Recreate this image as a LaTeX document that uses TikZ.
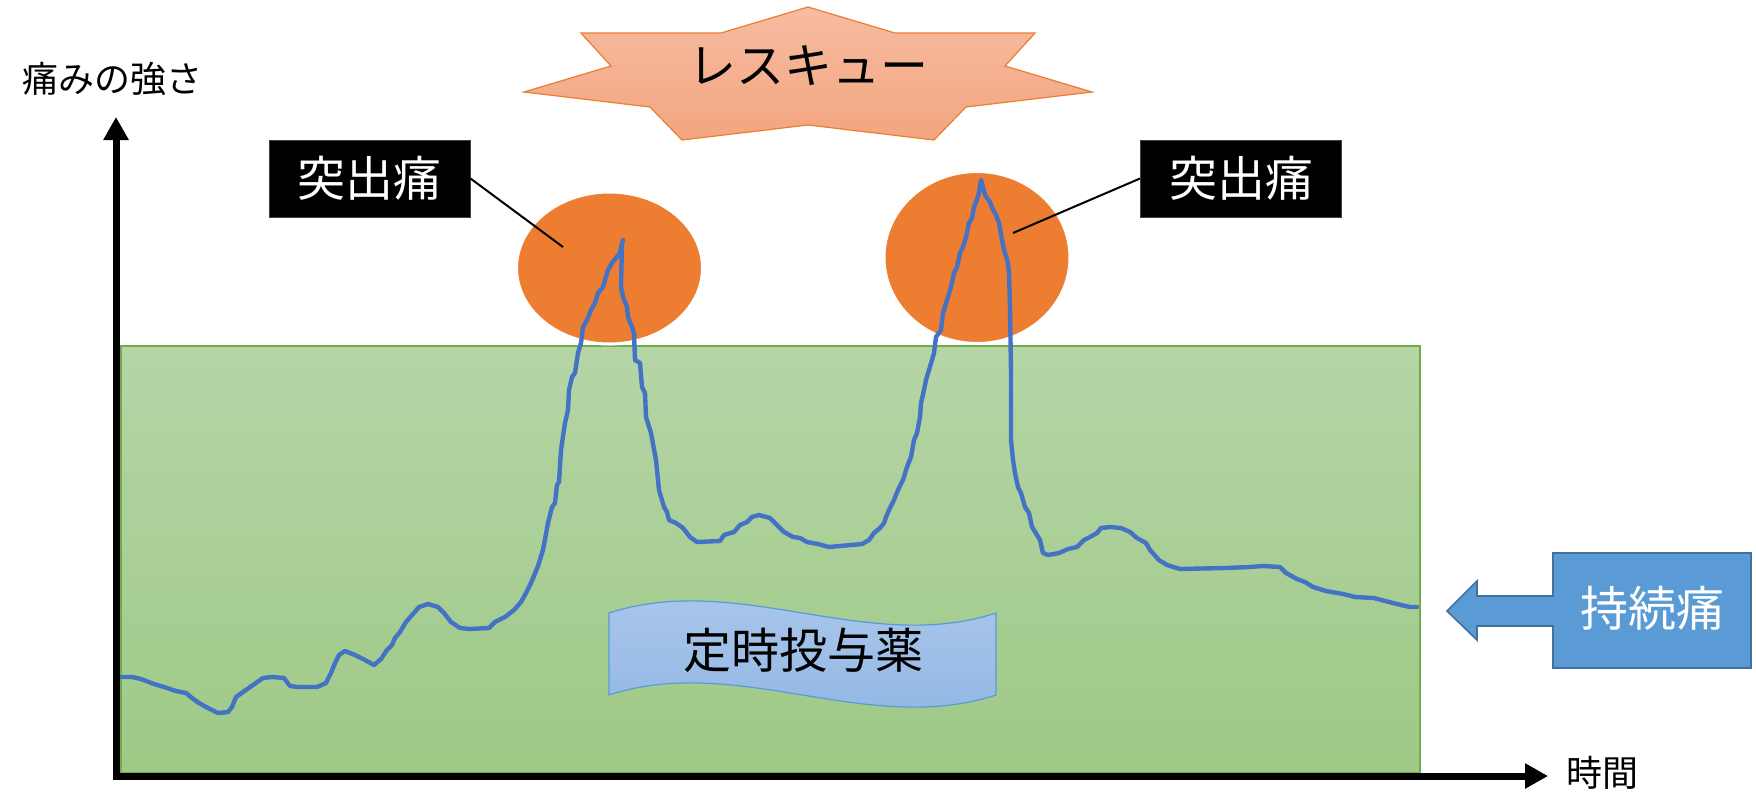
\documentclass[tikz,border=0pt]{standalone}
\usepackage{fontspec}
\setmainfont{Noto Sans CJK JP}
\usetikzlibrary{arrows.meta,shapes.geometric}
\definecolor{greentop}{RGB}{181,213,166}
\definecolor{greenbot}{RGB}{158,201,134}
\definecolor{greenline}{RGB}{112,173,71}
\definecolor{orangeA}{RGB}{237,125,49}
\definecolor{startop}{RGB}{246,188,162}
\definecolor{starbot}{RGB}{243,165,127}
\definecolor{wavetop}{RGB}{173,201,236}
\definecolor{wavebot}{RGB}{143,181,228}
\definecolor{waveline}{RGB}{91,155,213}
\definecolor{calloutfill}{RGB}{91,155,213}
\definecolor{calloutline}{RGB}{65,113,156}
\definecolor{curveblue}{RGB}{68,114,196}
\begin{document}
\begin{tikzpicture}[x=0.5pt,y=-0.5pt,
  bigfont/.style={font=\fontsize{24pt}{28pt}\selectfont},
  smallfont/.style={font=\fontsize{18pt}{22pt}\selectfont},
  blackbox/.style={fill=black, draw=black!75, line width=0.5pt, text=white,
    minimum width=100.5pt, minimum height=38.5pt, inner sep=0pt, bigfont},
  burst/.style={ellipse, fill=orangeA, draw=white, line width=1.5pt, inner sep=0pt},
  pain/.style={draw=curveblue, line width=2.2pt, line join=round, line cap=round},
  axis/.style={line width=3.5pt, line join=miter,
    {Triangle[length=11.5pt,width=12pt]}-{Triangle[length=11.5pt,width=12pt]}},
  leader/.style={draw=black, line width=1pt},
  plain/.style={inner sep=0pt}
]
\useasboundingbox (0,0) rectangle (1756,794);

% regular medication area
\path[top color=greentop, bottom color=greenbot, draw=greenline, line width=0.6pt]
  (121,346) rectangle (1420,773);

% breakthrough pain ellipses
\node[burst, minimum width=93pt, minimum height=76pt] (e1) at (609.5,268) {};
\node[burst, minimum width=93pt, minimum height=86pt] (e2) at (977,257.5) {};

% wave shape
\path[top color=wavetop, bottom color=wavebot, draw=waveline, line width=0.6pt]
  (609,613) .. controls (738,571) and (867,655) .. (996,613)
  -- (996,695) .. controls (867,737) and (738,653) .. (609,695) -- cycle;
\node[plain, bigfont] (teiji) at (803,650) {定時投与薬};

% pain curve
\draw[pain] plot coordinates {
(121,677) (132,677) (141,679) (154,684) (164,687) (176,691) (186,693) (192,698)
(199,703) (208,708) (218,713) (228,712) (232,707) (236,697) (243,692) (253,685)
(263,678) (272,677) (284,678) (290,686) (298,687) (317,687) (326,683) (331,673)
(335,663) (339,655) (345,651) (355,655) (365,660) (374,665) (381,659) (387,650)
(392,645) (395,638) (400,632) (406,622) (412,615) (419,607) (428,604) (438,607)
(444,613) (451,622) (460,628) (470,629) (489,628) (495,622) (505,617) (514,610)
(521,602) (526,593) (530,585) (534,576) (538,566) (543,550) (548,523) (552,507)
(555,503) (557,485) (559,482) (561,450) (565,423) (568,410) (569,390) (572,377)
(575,373) (578,353) (581,343) (583,327) (587,320) (591,310) (595,303) (598,293)
(603,287) (605,280) (608,270) (612,263) (616,258) (620,253) (621,247) (623,240)
(622,243) (621,287) (623,297) (627,307) (628,317) (632,327) (634,333) (635,360)
(640,363) (642,387) (645,393) (646,417) (651,433) (656,460) (659,490) (664,507)
(667,512) (669,520) (676,523) (683,528) (690,537) (697,542) (720,541) (724,535)
(734,532) (740,525) (747,522) (752,517) (759,515) (770,518) (777,525) (784,532)
(793,537) (800,538) (807,542) (818,544) (829,547) (862,544) (869,540) (874,533)
(880,528) (884,523) (886,517) (889,510) (894,500) (898,490) (903,480) (907,467)
(911,457) (914,440) (917,433) (920,417) (921,403) (924,390) (926,380) (929,370)
(932,360) (934,353) (936,337) (941,330) (943,313) (947,300) (951,287) (954,273)
(957,267) (960,253) (963,247) (966,237) (969,223) (972,218) (974,207) (976,202)
(979,193) (981,180) (983,187) (985,195) (990,202) (993,210) (996,215) (999,223)
(1002,240) (1004,250) (1008,263) (1009,273) (1010,307) (1011,373) (1011,440)
(1013,460) (1015,473) (1018,487) (1021,493) (1025,507) (1029,513) (1032,527)
(1037,535) (1040,540) (1043,553) (1048,555) (1059,553) (1068,549) (1077,547)
(1084,540) (1090,537) (1097,533) (1101,528) (1110,527) (1121,528) (1130,532)
(1137,538) (1146,543) (1150,550) (1159,560) (1167,565) (1180,569) (1225,568)
(1250,567) (1263,566) (1280,567) (1286,573) (1297,579) (1305,582) (1313,587)
(1326,591) (1343,594) (1355,597) (1374,598) (1389,602) (1401,605) (1410,607)
(1417,607)};

% axes
\coordinate (ytip) at (116,117);
\coordinate (origin) at (116,776);
\coordinate (xtip) at (1548,776);
\draw[axis] (ytip) -- (origin) -- (xtip);
\node[plain, smallfont] (ylab) at (112,79) {痛みの強さ};
\node[plain, smallfont] (xlab) at (1602,773) {時間};

% breakthrough labels
\node[blackbox] (bt1) at (369.5,178.5) {突出痛};
\node[blackbox] (bt2) at (1241,178.5) {突出痛};
\coordinate (p1) at (563,247);
\coordinate (p2) at (1013,233);
\draw[leader] (bt1.east) -- (p1);
\draw[leader] (bt2.west) -- (p2);

% rescue star
\path[top color=startop, bottom color=starbot, draw=orangeA, line width=0.6pt]
  (808,7) -- (895,33) -- (1035,33) -- (1005,66) -- (1092,92) -- (966,107)
  -- (934,140) -- (808,125) -- (682,140) -- (650,107) -- (524,92) -- (611,66)
  -- (581,33) -- (721,33) -- cycle;
\node[plain, bigfont] (rescue) at (808,66) {レスキュー};

% persistent pain callout
\path[fill=calloutfill, draw=calloutline, line width=0.8pt]
  (1553,553) -- (1751,553) -- (1751,668) -- (1553,668) -- (1553,626)
  -- (1477,626) -- (1477,640) -- (1447,611) -- (1477,581) -- (1477,596)
  -- (1553,596) -- cycle;
\node[plain, bigfont, text=white] (jizoku) at (1652,608) {持続痛};
\end{tikzpicture}
\end{document}
